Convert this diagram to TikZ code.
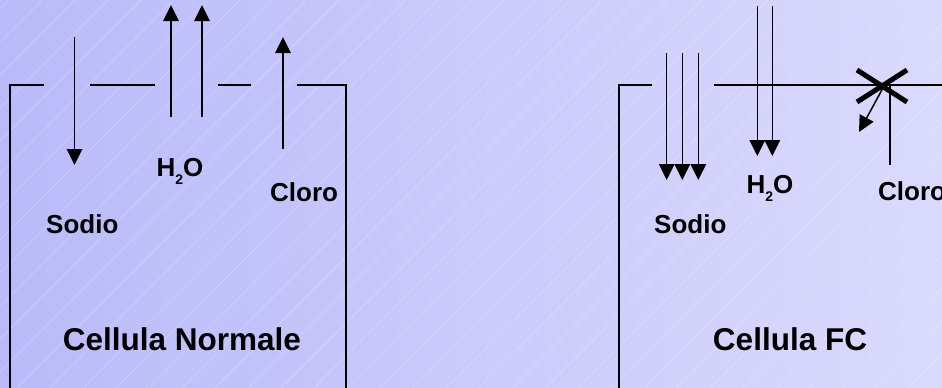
\documentclass[tikz,border=0pt]{standalone}
\usepackage{fontspec}
\setmainfont{Liberation Sans}
\usetikzlibrary{arrows.meta}
\definecolor{bgleft}{RGB}{186,186,250}
\definecolor{bgright}{RGB}{218,218,253}
\begin{document}
\begin{tikzpicture}[x=1pt,y=-1pt,
  wall/.style={line width=1.9pt,line cap=rect},
  flow/.style={line width=1.8pt,-{Triangle[length=16pt,width=15.5pt]}},
  blocked/.style={line width=5pt},
  lbl/.style={font=\bfseries\fontsize{26}{30}\selectfont,inner sep=0pt},
  ttl/.style={font=\bfseries\fontsize{31.5}{36}\selectfont,inner sep=0pt}]
\useasboundingbox (0,0) rectangle (942,388);
% background: soft horizontal gradient with faint diagonal hatching
\shade[left color=bgleft,right color=bgright] (0,0) rectangle (942,388);
\begin{scope}
  \clip (0,0) rectangle (942,388);
  \foreach \k in {0,...,40}
    \draw[white,opacity=.3,line width=.5pt] ({9+33*\k},0) -- ({9+33*\k-388},388);
\end{scope}

% ---------- normal cell ----------
\draw[wall] (43,85) -- (10,85) -- (10,390);
\draw[wall] (91,85) -- (154,85);
\draw[wall] (219,85) -- (250,85);
\draw[wall] (298,85) -- (346,85) -- (346,390);
% sodium in
\coordinate (nNaA) at (74.5,37);  \coordinate (nNaB) at (74.5,165);
\draw[flow] (nNaA) -- (nNaB);
% water out
\coordinate (nW1A) at (171,117); \coordinate (nW1B) at (171,5);
\coordinate (nW2A) at (202,117); \coordinate (nW2B) at (202,5);
\draw[flow] (nW1A) -- (nW1B);
\draw[flow] (nW2A) -- (nW2B);
% chloride out
\coordinate (nClA) at (283,149); \coordinate (nClB) at (283,37);
\draw[flow] (nClA) -- (nClB);
\node[lbl,anchor=base west] (nNa) at (46,233) {Sodio};
\node[lbl,anchor=base] (nW) at (180,176) {H\raisebox{-8pt}{\fontsize{14}{16}\selectfont 2}O};
\node[lbl,anchor=base west] (nCl) at (270,201) {Cloro};
\node[ttl,anchor=base] (nT) at (182,350) {Cellula Normale};

% ---------- CF cell ----------
\draw[wall] (651,85) -- (619,85) -- (619,390);
\draw[wall] (715,85) -- (944,85);
% sodium in (increased)
\foreach \x [count=\i] in {666.7,682.3,698.3}{
  \coordinate (fNa\i A) at (\x,53); \coordinate (fNa\i B) at (\x,180);
  \draw[flow,line width=1.5pt] (fNa\i A) -- (fNa\i B);
}
% water in
\foreach \x [count=\i] in {757.3,772.3}{
  \coordinate (fW\i A) at (\x,6); \coordinate (fW\i B) at (\x,156);
  \draw[flow,line width=1.5pt] (fW\i A) -- (fW\i B);
}
% chloride channel blocked
\coordinate (fX) at (882,86);
\draw[blocked] (857,70) -- (907,102);
\draw[blocked] (907,70) -- (857,102);
\coordinate (fClA) at (890,85); \coordinate (fClB) at (890,165);
\draw[line width=1.6pt] (fClA) -- (fClB);
\coordinate (fBack) at (859,132);
\draw[flow,line width=1.5pt] (884,86) -- (fBack);
\node[lbl,anchor=base west] (fNa) at (654,233) {Sodio};
\node[lbl,anchor=base] (fW) at (770,193) {H\raisebox{-8pt}{\fontsize{14}{16}\selectfont 2}O};
\node[lbl,anchor=base west] (fCl) at (878,200) {Cloro};
\node[ttl,anchor=base] (fT) at (790,350) {Cellula FC};
\end{tikzpicture}
\end{document}
